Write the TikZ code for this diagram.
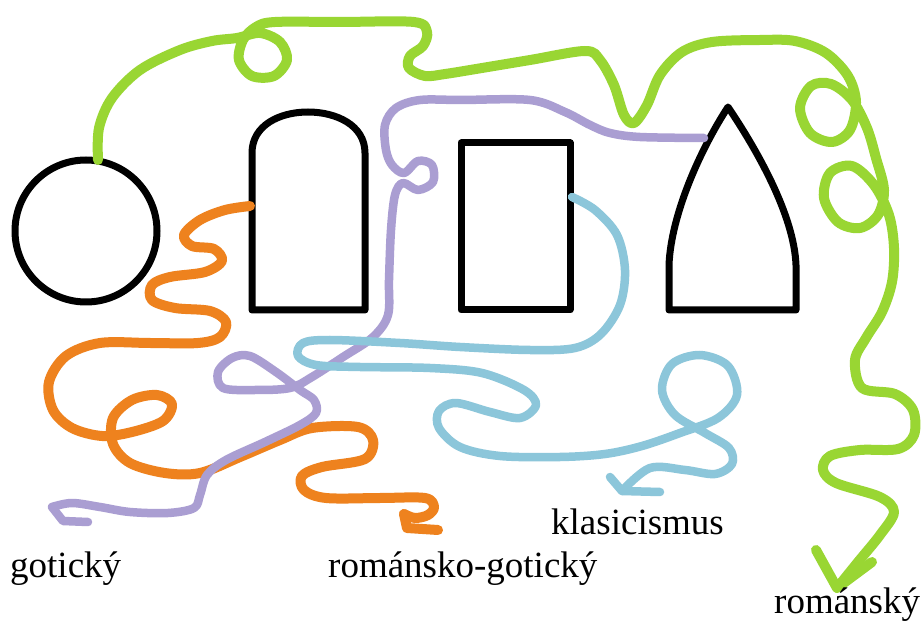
\documentclass[tikz,border=0pt]{standalone}
\usepackage{fontspec}
\setmainfont{Liberation Serif}
\definecolor{cgreen}{RGB}{153,214,51}
\definecolor{corange}{RGB}{238,130,30}
\definecolor{cpurple}{RGB}{170,158,210}
\definecolor{cblue}{RGB}{140,198,218}
\begin{document}
\begin{tikzpicture}[x=1pt,y=-1pt,
  outline/.style={draw=black,line width=7pt,line join=round},
  wire/.style={line width=10pt,line cap=round,line join=round},
  thinwire/.style={line width=8.5pt,line cap=round,line join=round},
  lbl/.style={anchor=base west,inner sep=0pt,font=\fontsize{37}{41}\selectfont}]
\useasboundingbox[fill=white] (0,0) rectangle (922,628);

% black shapes
\draw[outline] (86,231) circle[radius=71];
\draw[outline] (252,310) -- (252,153) .. controls (252,125) and (280,112) .. (308,112)
  .. controls (336,112) and (365,125) .. (365,153) -- (365,310) -- cycle;
\draw[outline] (461,143) rectangle (570,310);
\draw[outline] (669,310) -- (669,265) .. controls (671,215) and (700,150) .. (728,107)
  .. controls (757,150) and (794,215) .. (796,265) -- (796,310) -- cycle;

% attach points
\coordinate (gS) at (98,160);
\coordinate (oS) at (250,206);
\coordinate (bS) at (572,197);
\coordinate (pS) at (704,138);
\coordinate (gT) at (837,588);
\coordinate (pT) at (52,507);
\coordinate (bT) at (622,491);
\coordinate (oT) at (404,514);

% green
\draw[wire,cgreen] plot[smooth,tension=0.55] coordinates {
 (gS) (99,128) (112,98) (140,70) (180,50) (212,41) (237,38)
 (260,33) (280,42) (287,60) (274,76) (252,76) (239,60) (243,40) (256,27) (275,22)
 (340,22) (414,22) (427,32) (423,46) (410,56) (409,68) (425,76) (445,74) (470,70)
 (530,60) (585,51) (600,60) (614,85) (624,115) (634,123) (647,105) (660,75) (682,52) (712,42)
 (760,40) (795,41) (826,53) (848,76) (856,102) (850,130) (832,142) (810,133) (800,108)
 (811,86) (831,84) (852,100) (867,128) (876,158) (884,190) (878,215) (860,228) (838,222)
 (824,198) (830,173) (852,166) (874,185) (889,215) (894,248) (892,282) (882,312)
 (866,338) (855,360) (862,388) (895,394) (913,410) (914,435) (898,449) (860,450)
 (830,456) (823,470) (836,483) (880,497) (894,512) (880,535) (858,562) (gT)};
\draw[wire,cgreen] (816,550) -- (gT) -- (872,562);

% orange
\draw[wire,corange] plot[smooth,tension=0.55] coordinates {
 (oS) (225,210) (200,220) (184,235) (192,246) (214,249) (222,261) (205,272) (170,277)
 (152,285) (152,300) (175,308) (210,311) (226,322) (220,337) (198,343) (150,343)
 (100,343) (66,356) (49,382) (53,410) (72,428) (102,436) (132,432) (163,421) (172,404)
 (157,395) (132,400) (113,418) (113,444) (130,463) (165,473) (200,473) (240,457)
 (280,440) (312,428) (358,427) (373,440) (365,459) (322,467) (302,476) (304,490)
 (326,498) (380,498) (425,498) (434,507) (428,515) (415,518) (oT)};
\draw[wire,corange] (oT) -- (407,528) -- (438,530);

% purple
\draw[thinwire,cpurple] plot[smooth,tension=0.55] coordinates {
 (pS) (640,137) (610,133) (590,125) (565,112) (530,100) (461,100) (420,100) (396,108)
 (385,125) (386,150) (392,165) (404,173) (418,161) (432,165) (433,182) (418,190)
 (403,183) (395,195) (391,230) (389,280) (388,315) (373,337) (343,357) (312,377)
 (290,388) (255,390) (223,388) (218,372) (232,358) (250,356) (276,372) (300,390)
 (314,400) (316,413) (300,425) (265,442) (226,460) (207,475) (200,495) (194,508)
 (168,513) (130,512) (100,507) (72,503) (pT)};
\draw[thinwire,cpurple] (pT) -- (63,521) -- (88,522);

% blue
\draw[thinwire,cblue] plot[smooth,tension=0.55] coordinates {
 (bS) (595,210) (617,235) (625,270) (620,305) (601,334) (575,348) (530,350) (460,347)
 (400,343) (330,340) (303,343) (298,356) (316,365) (360,367) (430,368) (482,373)
 (524,390) (536,405) (520,418) (490,412) (456,403) (439,411) (439,428) (460,447)
 (500,456) (560,457) (605,454) (642,446) (680,433) (718,418) (737,395) (728,366)
 (700,355) (672,364) (662,390) (675,415) (705,433) (729,448) (732,464) (715,474)
 (685,470) (650,468) (bT)};
\draw[thinwire,cblue] (610,477) -- (bT) -- (660,492);

% labels
\node[lbl] (l1) at (10,577) {gotický};
\node[lbl] (l2) at (328,577) {románsko-gotický};
\node[lbl] (l3) at (551,534) {klasicismus};
\node[lbl] (l4) at (774,613) {románský};
\end{tikzpicture}
\end{document}
